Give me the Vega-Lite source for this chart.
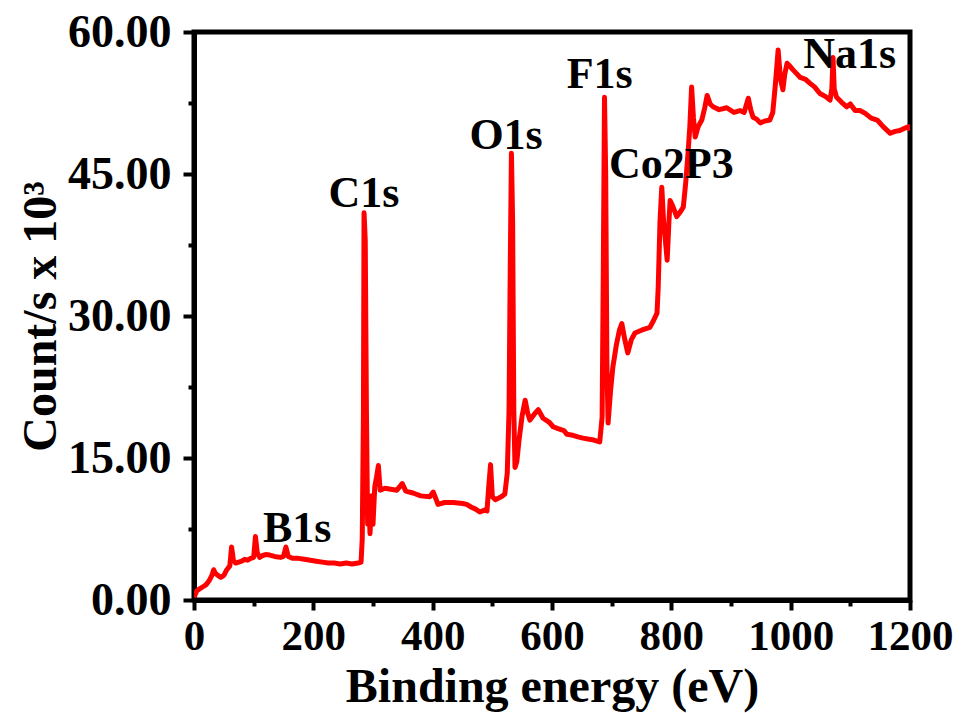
{
  "$schema": "https://vega.github.io/schema/vega-lite/v6.json",
  "width": 716,
  "height": 568,
  "autosize": {"type": "none"},
  "padding": {"left": 194, "top": 32, "right": 55, "bottom": 113},
  "background": "white",
  "config": {
    "view": {"stroke": "black", "strokeWidth": 5},
    "font": "Liberation Serif",
    "axis": {
      "grid": false,
      "domainColor": "black",
      "domainWidth": 5,
      "tickColor": "black",
      "tickWidth": 4,
      "labelFont": "Liberation Serif",
      "labelFontWeight": "bold",
      "labelFontSize": 46,
      "labelColor": "black",
      "titleFont": "Liberation Serif",
      "titleFontWeight": "bold",
      "titleFontSize": 48,
      "titleColor": "black"
    }
  },
  "layer": [
    {
      "data": {
        "values": [
          {"be": 0, "cps": 0.3}, {"be": 5, "cps": 1.0}, {"be": 10, "cps": 1.2}, {"be": 15, "cps": 1.4},
          {"be": 20, "cps": 1.6}, {"be": 25, "cps": 2.0}, {"be": 30, "cps": 2.6}, {"be": 33, "cps": 3.2},
          {"be": 36, "cps": 2.8}, {"be": 40, "cps": 2.6}, {"be": 45, "cps": 2.4}, {"be": 50, "cps": 2.6},
          {"be": 55, "cps": 3.2}, {"be": 60, "cps": 3.6}, {"be": 63, "cps": 5.6}, {"be": 66, "cps": 4.2},
          {"be": 70, "cps": 3.9}, {"be": 75, "cps": 4.0}, {"be": 80, "cps": 4.1}, {"be": 85, "cps": 4.3},
          {"be": 90, "cps": 4.2}, {"be": 95, "cps": 4.4}, {"be": 100, "cps": 4.5}, {"be": 103, "cps": 6.7},
          {"be": 106, "cps": 5.0}, {"be": 110, "cps": 4.5}, {"be": 115, "cps": 4.7}, {"be": 120, "cps": 4.8},
          {"be": 127, "cps": 4.75}, {"be": 135, "cps": 4.6}, {"be": 145, "cps": 4.5}, {"be": 150, "cps": 4.6},
          {"be": 154, "cps": 5.6}, {"be": 158, "cps": 4.6}, {"be": 165, "cps": 4.4}, {"be": 175, "cps": 4.4},
          {"be": 185, "cps": 4.3}, {"be": 195, "cps": 4.2}, {"be": 205, "cps": 4.1}, {"be": 215, "cps": 4.0},
          {"be": 225, "cps": 3.9}, {"be": 235, "cps": 3.9}, {"be": 245, "cps": 3.8}, {"be": 255, "cps": 3.9},
          {"be": 265, "cps": 3.8}, {"be": 275, "cps": 3.9}, {"be": 280, "cps": 4.0}, {"be": 282, "cps": 6.5},
          {"be": 284, "cps": 20}, {"be": 285, "cps": 40.9}, {"be": 287, "cps": 38}, {"be": 289, "cps": 20},
          {"be": 291, "cps": 8}, {"be": 293, "cps": 10.5}, {"be": 295, "cps": 7.0}, {"be": 298, "cps": 11.0},
          {"be": 300, "cps": 8.0}, {"be": 303, "cps": 12.0}, {"be": 306, "cps": 13}, {"be": 309, "cps": 14.2},
          {"be": 312, "cps": 11.6}, {"be": 320, "cps": 11.8}, {"be": 330, "cps": 11.7}, {"be": 340, "cps": 11.6},
          {"be": 349, "cps": 12.3}, {"be": 355, "cps": 11.5}, {"be": 367, "cps": 11.3}, {"be": 380, "cps": 11.0},
          {"be": 395, "cps": 10.9}, {"be": 401, "cps": 11.4}, {"be": 409, "cps": 10.1}, {"be": 420, "cps": 10.3},
          {"be": 435, "cps": 10.3}, {"be": 450, "cps": 10.2}, {"be": 457, "cps": 10.1}, {"be": 465, "cps": 9.8},
          {"be": 472, "cps": 9.6}, {"be": 479, "cps": 9.3}, {"be": 487, "cps": 9.5}, {"be": 491, "cps": 9.4},
          {"be": 494, "cps": 12}, {"be": 497, "cps": 14.3}, {"be": 500, "cps": 10.9}, {"be": 505, "cps": 10.6},
          {"be": 515, "cps": 10.9}, {"be": 521, "cps": 11.2}, {"be": 525, "cps": 13.4}, {"be": 528, "cps": 20},
          {"be": 530, "cps": 35}, {"be": 532, "cps": 47.2}, {"be": 534, "cps": 40}, {"be": 536, "cps": 20},
          {"be": 538, "cps": 14}, {"be": 541, "cps": 14.6}, {"be": 545, "cps": 17}, {"be": 550, "cps": 19.5},
          {"be": 555, "cps": 21.1}, {"be": 559, "cps": 19.8}, {"be": 563, "cps": 19.0}, {"be": 570, "cps": 19.6},
          {"be": 577, "cps": 20.1}, {"be": 585, "cps": 19.2}, {"be": 595, "cps": 18.8}, {"be": 602, "cps": 18.3},
          {"be": 610, "cps": 18.1}, {"be": 620, "cps": 17.9}, {"be": 625, "cps": 17.5}, {"be": 635, "cps": 17.4},
          {"be": 645, "cps": 17.2}, {"be": 652, "cps": 17.1}, {"be": 660, "cps": 17.0}, {"be": 670, "cps": 16.9},
          {"be": 680, "cps": 16.7}, {"be": 684, "cps": 19.3}, {"be": 686, "cps": 35}, {"be": 688, "cps": 53.1},
          {"be": 690, "cps": 45}, {"be": 692, "cps": 25}, {"be": 694, "cps": 18.7}, {"be": 698, "cps": 22},
          {"be": 702, "cps": 24.6}, {"be": 708, "cps": 27}, {"be": 713, "cps": 28.5}, {"be": 717, "cps": 29.2},
          {"be": 722, "cps": 27.5}, {"be": 727, "cps": 26.1}, {"be": 733, "cps": 27.5}, {"be": 739, "cps": 28.2},
          {"be": 750, "cps": 28.5}, {"be": 764, "cps": 28.8}, {"be": 770, "cps": 29.5}, {"be": 776, "cps": 30.3},
          {"be": 778, "cps": 33}, {"be": 781, "cps": 40}, {"be": 784, "cps": 43.6}, {"be": 787, "cps": 40},
          {"be": 790, "cps": 38}, {"be": 793, "cps": 35.9}, {"be": 796, "cps": 40}, {"be": 798, "cps": 42.2},
          {"be": 803, "cps": 41.5}, {"be": 809, "cps": 40.5}, {"be": 815, "cps": 41}, {"be": 820, "cps": 41.5},
          {"be": 824, "cps": 44}, {"be": 828, "cps": 47.2}, {"be": 831, "cps": 50}, {"be": 834, "cps": 54.2},
          {"be": 837, "cps": 51}, {"be": 840, "cps": 48.9}, {"be": 845, "cps": 50}, {"be": 851, "cps": 50.7},
          {"be": 856, "cps": 52}, {"be": 860, "cps": 53.3}, {"be": 865, "cps": 52.4}, {"be": 870, "cps": 52.1},
          {"be": 880, "cps": 51.8}, {"be": 893, "cps": 52.0}, {"be": 905, "cps": 51.5}, {"be": 915, "cps": 51.7},
          {"be": 922, "cps": 51.5}, {"be": 929, "cps": 53.0}, {"be": 933, "cps": 51.8}, {"be": 937, "cps": 51.0},
          {"be": 943, "cps": 50.8}, {"be": 949, "cps": 50.4}, {"be": 957, "cps": 50.6}, {"be": 965, "cps": 50.7},
          {"be": 970, "cps": 51.5}, {"be": 974, "cps": 54.2}, {"be": 977, "cps": 56.5}, {"be": 979, "cps": 58.1},
          {"be": 983, "cps": 55}, {"be": 987, "cps": 53.9}, {"be": 990, "cps": 55.5}, {"be": 994, "cps": 56.7},
          {"be": 1000, "cps": 56.3}, {"be": 1004, "cps": 56.0}, {"be": 1010, "cps": 55.6}, {"be": 1016, "cps": 55.2},
          {"be": 1025, "cps": 55.0}, {"be": 1032, "cps": 54.6}, {"be": 1040, "cps": 54.2}, {"be": 1049, "cps": 53.5},
          {"be": 1058, "cps": 53.2}, {"be": 1066, "cps": 52.8}, {"be": 1069, "cps": 54}, {"be": 1071, "cps": 57.3},
          {"be": 1073, "cps": 54}, {"be": 1077, "cps": 53.1}, {"be": 1085, "cps": 52.6}, {"be": 1094, "cps": 52.1},
          {"be": 1100, "cps": 52.4}, {"be": 1108, "cps": 51.7}, {"be": 1116, "cps": 51.7}, {"be": 1125, "cps": 51.4},
          {"be": 1135, "cps": 50.9}, {"be": 1145, "cps": 50.7}, {"be": 1155, "cps": 50.0}, {"be": 1167, "cps": 49.3},
          {"be": 1175, "cps": 49.5}, {"be": 1183, "cps": 49.6}, {"be": 1190, "cps": 49.8}, {"be": 1197, "cps": 50.0},
          {"be": 1200, "cps": 49.6}
        ]
      },
      "mark": {"type": "line", "color": "#ff0000", "strokeWidth": 5, "strokeJoin": "round", "clip": true},
      "encoding": {
        "x": {
          "field": "be",
          "type": "quantitative",
          "scale": {"domain": [0, 1200], "nice": false, "zero": false},
          "axis": {
            "title": "Binding energy (eV)",
            "values": [0, 100, 200, 300, 400, 500, 600, 700, 800, 900, 1000, 1100, 1200],
            "labelExpr": "datum.value % 200 === 0 ? datum.label : ''",
            "format": "d",
            "labelFontSize": 43,
            "tickSize": {"condition": {"test": "datum.value % 200 === 0", "value": 10}, "value": 6},
            "labelPadding": 5,
            "labelFlush": false,
            "labelOverlap": false,
            "titlePadding": 5
          }
        },
        "y": {
          "field": "cps",
          "type": "quantitative",
          "scale": {"domain": [0, 60], "nice": false, "zero": false},
          "axis": {
            "title": "Count/s x 10³",
            "values": [0, 7.5, 15, 22.5, 30, 37.5, 45, 52.5, 60],
            "labelExpr": "datum.value % 15 === 0 ? format(datum.value, '.2f') : ''",
            "tickSize": {"condition": {"test": "datum.value % 15 === 0", "value": 11}, "value": 6},
            "labelPadding": 12,
            "labelFlush": false,
            "labelOverlap": false,
            "titlePadding": 2
          }
        }
      }
    },
    {
      "data": {
        "values": [
          {"be": 173, "cps": 6.1, "peak": "B1s"},
          {"be": 285, "cps": 41.5, "peak": "C1s"},
          {"be": 523, "cps": 47.6, "peak": "O1s"},
          {"be": 680, "cps": 54.1, "peak": "F1s"},
          {"be": 800, "cps": 44.6, "peak": "Co2P3"},
          {"be": 1099, "cps": 56.2, "peak": "Na1s"}
        ]
      },
      "mark": {
        "type": "text",
        "font": "Liberation Serif",
        "fontWeight": "bold",
        "fontSize": 44,
        "color": "black",
        "align": "center",
        "baseline": "alphabetic"
      },
      "encoding": {
        "x": {"field": "be", "type": "quantitative"},
        "y": {"field": "cps", "type": "quantitative"},
        "text": {"field": "peak", "type": "nominal"}
      }
    }
  ]
}
